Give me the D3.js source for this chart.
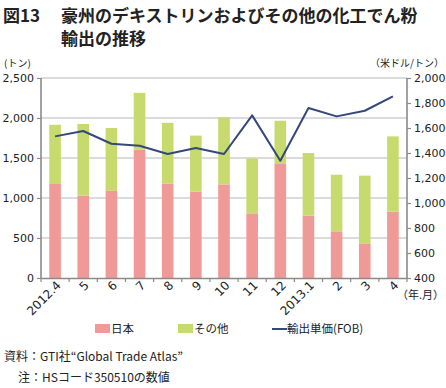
<!DOCTYPE html>
<html>
<head>
<meta charset="utf-8">
<script src="https://cdn.jsdelivr.net/npm/d3@7"></script>
<style>
  body { margin: 0; background: #fff; }
  svg { font-family: "Noto Sans CJK JP", "Noto Sans", sans-serif; }
</style>
</head>
<body>
<div id="chart"></div>
<script>
const months = ["2012.4", "5", "6", "7", "8", "9", "10", "11", "12", "2013.1", "2", "3", "4"];
const japan = [1175, 1030, 1095, 1605, 1180, 1080, 1170, 808, 1433, 779, 583, 433, 829];
const others = [740, 895, 780, 710, 760, 700, 838, 687, 533, 783, 708, 846, 941];
const unitPrice = [1533, 1576, 1474, 1458, 1392, 1440, 1392, 1701, 1338, 1760, 1693, 1738, 1853];
const leftTicks = [0, 500, 1000, 1500, 2000, 2500];
const rightTicks = [400, 600, 800, 1000, 1200, 1400, 1600, 1800, 2000];

const W = 446, H = 388;
const margins = { top: 78, bottom: 110, left: 41, right: 39 };
const width = W - margins.left - margins.right;
const height = H - margins.top - margins.bottom;

const colJapan = "#f09a98";
const colOther = "#c6da6e";
const colLine = "#34487a";

const root = d3.select("#chart").append("svg")
    .attr("width", W)
    .attr("height", H);

// title
root.append("text").attr("x", 3).attr("y", 22)
    .style("font-size", "17px").style("font-weight", "bold").attr("fill", "#222")
    .text("図13");
root.append("text").attr("x", 61).attr("y", 22)
    .style("font-size", "17px").style("font-weight", "bold").attr("fill", "#222")
    .text("豪州のデキストリンおよびその他の化工でん粉");
root.append("text").attr("x", 61).attr("y", 45)
    .style("font-size", "17px").style("font-weight", "bold").attr("fill", "#222")
    .text("輸出の推移");

const svg = root.append("g")
    .attr("transform", "translate(" + margins.left + "," + margins.top + ")");

const xBand = d3.scaleBand().domain(months).range([0, width]);
const yLeft = d3.scaleLinear().domain([0, 2500]).range([height, 0]);
const yRight = d3.scaleLinear().domain([400, 2000]).range([height, 0]);

// gridlines
svg.selectAll(".grid").data(leftTicks.filter(d => d > 0)).enter()
    .append("line")
    .attr("x1", 0).attr("x2", width)
    .attr("y1", d => yLeft(d)).attr("y2", d => yLeft(d))
    .attr("stroke", "#b8b8b8").attr("stroke-width", 1.2);

// bars
const stacked = months.map((m, i) => ({ m: m, j: japan[i], o: others[i] }));
svg.selectAll(".bar-j").data(stacked).enter()
    .append("rect")
    .attr("x", d => xBand(d.m) + xBand.bandwidth() / 2 - 5.8)
    .attr("width", 11.6)
    .attr("y", d => yLeft(d.j))
    .attr("height", d => height - yLeft(d.j))
    .attr("fill", colJapan);
svg.selectAll(".bar-o").data(stacked).enter()
    .append("rect")
    .attr("x", d => xBand(d.m) + xBand.bandwidth() / 2 - 5.8)
    .attr("width", 11.6)
    .attr("y", d => yLeft(d.j + d.o))
    .attr("height", d => yLeft(d.j) - yLeft(d.j + d.o))
    .attr("fill", colOther);

// line
const line = d3.line()
    .x((d, i) => xBand(months[i]) + xBand.bandwidth() / 2)
    .y(d => yRight(d));
svg.append("path")
    .datum(unitPrice)
    .attr("fill", "none")
    .attr("stroke", colLine)
    .attr("stroke-width", 2)
    .attr("stroke-linejoin", "round")
    .attr("d", line);

// axes
const axisColor = "#8a8a8a";
const leftAxis = svg.append("g")
    .call(d3.axisLeft(yLeft).tickValues(leftTicks).tickFormat(d3.format(",")).tickSize(4).tickPadding(3));
const rightAxis = svg.append("g")
    .attr("transform", "translate(" + width + ",0)")
    .call(d3.axisRight(yRight).tickValues(rightTicks).tickFormat(d3.format(",")).tickSize(4).tickPadding(3));
const bottomAxis = svg.append("g")
    .attr("transform", "translate(0," + height + ")")
    .call(d3.axisBottom(xBand).tickSize(0).tickPadding(8));

// category boundary ticks
svg.selectAll(".xtick").data(months.concat(["end"])).enter()
    .append("line")
    .attr("x1", (d, i) => i * xBand.step()).attr("x2", (d, i) => i * xBand.step())
    .attr("y1", height).attr("y2", height + 4)
    .attr("stroke", axisColor).attr("stroke-width", 1.2);

[leftAxis, rightAxis, bottomAxis].forEach(a => {
    a.select(".domain").attr("stroke", axisColor).attr("stroke-width", 1.6);
    a.selectAll(".tick line").attr("stroke", axisColor).attr("stroke-width", 1.2);
    a.selectAll("text").attr("fill", "#222").style("font-size", "11px")
        .style("font-family", "Verdana, 'DejaVu Sans', sans-serif");
});
leftAxis.select(".domain").attr("d", "M0," + height + "V0");
rightAxis.select(".domain").attr("d", "M0," + height + "V0");

bottomAxis.selectAll("text")
    .style("font-size", "12px")
    .attr("text-anchor", "end")
    .attr("dx", "-0.1em")
    .attr("dy", "0.2em")
    .attr("transform", "rotate(-45)");

// axis unit labels
root.append("text").attr("x", 4).attr("y", 67)
    .style("font-size", "10px").attr("fill", "#222").text("(トン)");
root.append("text").attr("x", 444).attr("y", 67).attr("text-anchor", "end")
    .style("font-size", "10px").attr("fill", "#222").text("（米ドル/トン）");
root.append("text").attr("x", 444).attr("y", 299).attr("text-anchor", "end")
    .style("font-size", "11px").attr("fill", "#222").text("（年.月）");

// legend
const legend = root.append("g").attr("transform", "translate(0,329)");
legend.append("rect").attr("x", 95).attr("y", -5).attr("width", 15).attr("height", 9).attr("fill", colJapan);
legend.append("text").attr("x", 111).attr("y", 4).style("font-size", "11.5px").attr("fill", "#222").text("日本");
legend.append("rect").attr("x", 178).attr("y", -5).attr("width", 15).attr("height", 9).attr("fill", colOther);
legend.append("text").attr("x", 194).attr("y", 4).style("font-size", "11.5px").attr("fill", "#222").text("その他");
legend.append("line").attr("x1", 272).attr("x2", 287).attr("y1", 0).attr("y2", 0)
    .attr("stroke", colLine).attr("stroke-width", 2);
legend.append("text").attr("x", 287).attr("y", 4).style("font-size", "11.5px").attr("fill", "#222")
    .text("輸出単価(FOB)");

// notes
root.append("text").attr("x", 4).attr("y", 361)
    .style("font-size", "12px").attr("fill", "#222")
    .text("資料：GTI社“Global Trade Atlas”");
root.append("text").attr("x", 18).attr("y", 382)
    .style("font-size", "12px").attr("fill", "#222")
    .text("注：HSコード350510の数値");
</script>
</body>
</html>
